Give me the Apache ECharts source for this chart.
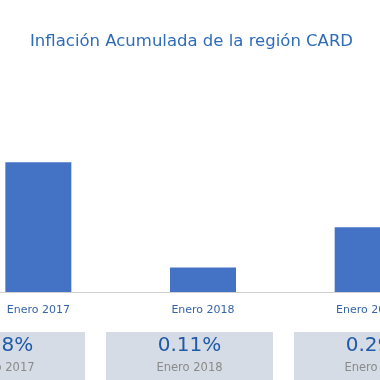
<!DOCTYPE html>
<html><head><meta charset="utf-8">
<script src="https://cdn.jsdelivr.net/npm/echarts@6/dist/echarts.min.js"></script>
<style>html,body{margin:0;padding:0;background:#fff}#c{width:380px;height:380px}</style>
</head><body><div id="c"></div>
<script>
const titleText = "Inflación Acumulada de la región CARD";
const categories = ["Enero 2017", "Enero 2018", "Enero 2019"];
const values = [0.58, 0.11, 0.29];
const valueLabels = ["0.58%", "0.11%", "0.29%"];

const chart = echarts.init(document.getElementById('c'), null, {renderer: 'canvas'});
const FONT = 'DejaVu Sans';
const boxCenters = [1.5, 189.5, 377.5];
const graphics = [];
categories.forEach((c, i) => {
  const cx = boxCenters[i];
  graphics.push({type: 'rect', shape: {x: cx - 83.5, y: 332, width: 167, height: 48}, style: {fill: '#d6dce5'}, silent: true});
  graphics.push({type: 'text', x: cx, y: 346, style: {text: valueLabels[i], fill: '#1f5aa8', font: '20px ' + FONT, textAlign: 'center', textVerticalAlign: 'middle'}});
  graphics.push({type: 'text', x: cx, y: 368, style: {text: c, fill: '#8a8a8a', font: '11.5px ' + FONT, textAlign: 'center', textVerticalAlign: 'middle'}});
});
chart.setOption({
  animation: false,
  backgroundColor: '#ffffff',
  title: {text: titleText, left: 30, top: 33, padding: 0, textStyle: {color: '#2f6cb8', fontSize: 16.5, fontWeight: 'normal', fontFamily: FONT}},
  grid: {left: -44, width: 494, top: 135.5, bottom: 88, outerBoundsMode: 'none', containLabel: false},
  xAxis: {type: 'category', data: categories,
    axisLine: {lineStyle: {color: '#d0d0d0', width: 1}}, axisTick: {show: false},
    axisLabel: {color: '#3565a8', fontSize: 11, fontFamily: FONT, margin: 13}},
  yAxis: {type: 'value', min: 0, max: 0.7, show: false, splitLine: {show: false}},
  series: [{type: 'bar', data: values, barWidth: 66, itemStyle: {color: '#4472c4'}}],
  graphic: graphics
});
</script></body></html>
